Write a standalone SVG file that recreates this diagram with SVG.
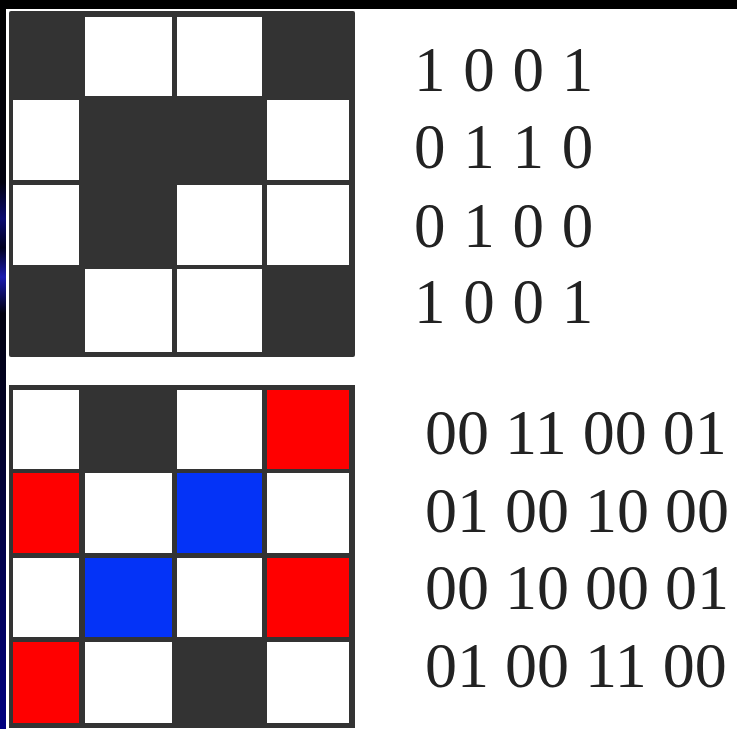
<svg xmlns="http://www.w3.org/2000/svg" width="737" height="729" viewBox="0 0 737 729">
<style>
.frame{fill:#333333}
.w{fill:#ffffff}
.r{fill:#ff0000}
.b{fill:#0433f7}
.d{fill:#333333}
.num{font-family:"Liberation Serif","Times New Roman",serif;fill:#222222}
.t{font-size:63px;word-spacing:2px}
.u{font-size:64px}
</style>
<defs>
<linearGradient id="side" x1="0" y1="0" x2="0" y2="1">
<stop offset="0" stop-color="#000000"/>
<stop offset="0.25" stop-color="#000010"/>
<stop offset="0.3" stop-color="#0a0a70"/>
<stop offset="0.34" stop-color="#000020"/>
<stop offset="0.38" stop-color="#1a1ab0"/>
<stop offset="0.43" stop-color="#000010"/>
<stop offset="0.6" stop-color="#00002a"/>
<stop offset="1" stop-color="#000080"/>
</linearGradient>
</defs>
<rect x="0" y="0" width="737" height="729" fill="#ffffff"/>
<rect x="0" y="0" width="737" height="9" fill="#000000"/>
<rect x="0" y="0" width="6" height="729" fill="url(#side)"/>

<g id="grid-top">
<rect class="frame" x="9" y="11" width="346" height="346" rx="2"/>
<rect class="w" x="85" y="17" width="87" height="79"/>
<rect class="w" x="177" y="17" width="85" height="79"/>
<rect class="w" x="13" y="100" width="66" height="80"/>
<rect class="w" x="267" y="100" width="82" height="80"/>
<rect class="w" x="13" y="185" width="66" height="80"/>
<rect class="w" x="177" y="185" width="85" height="80"/>
<rect class="w" x="267" y="185" width="82" height="80"/>
<rect class="w" x="85" y="269" width="87" height="83"/>
<rect class="w" x="177" y="269" width="85" height="83"/>
</g>

<g id="grid-bottom">
<rect class="frame" x="9" y="385" width="346" height="343"/>
<rect class="w" x="13" y="390" width="66" height="79"/>
<rect class="d" x="85" y="390" width="87" height="79"/>
<rect class="w" x="177" y="390" width="85" height="79"/>
<rect class="r" x="267" y="390" width="82" height="79"/>
<rect class="r" x="13" y="473" width="66" height="80"/>
<rect class="w" x="85" y="473" width="87" height="80"/>
<rect class="b" x="177" y="473" width="85" height="80"/>
<rect class="w" x="267" y="473" width="82" height="80"/>
<rect class="w" x="13" y="558" width="66" height="79"/>
<rect class="b" x="85" y="558" width="87" height="79"/>
<rect class="w" x="177" y="558" width="85" height="79"/>
<rect class="r" x="267" y="558" width="82" height="79"/>
<rect class="r" x="13" y="642" width="66" height="81"/>
<rect class="w" x="85" y="642" width="87" height="81"/>
<rect class="d" x="177" y="642" width="85" height="81"/>
<rect class="w" x="267" y="642" width="82" height="81"/>
</g>

<g id="bits-top" class="num t">
<text x="414" y="91">1 0 0 1</text>
<text x="414" y="168">0 1 1 0</text>
<text x="414" y="247">0 1 0 0</text>
<text x="414" y="323">1 0 0 1</text>
</g>

<g id="bits-bottom" class="num u">
<text x="425" y="454">00 11 00 01</text>
<text x="425" y="532">01 00 10 00</text>
<text x="425" y="609">00 10 00 01</text>
<text x="425" y="687">01 00 11 00</text>
</g>
</svg>
